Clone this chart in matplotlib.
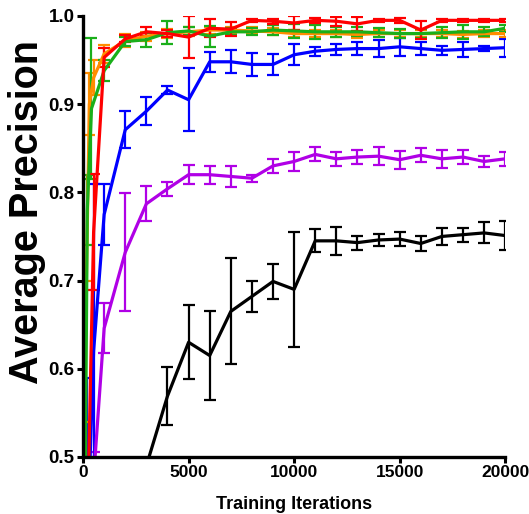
import matplotlib
matplotlib.use("Agg")
import matplotlib.pyplot as plt

plt.rcParams['font.family'] = ['Liberation Sans', 'DejaVu Sans']
plt.rcParams['font.weight'] = 'bold'

# iterations, mean AP, +/- error
black_x = [1000, 2000, 3000, 4000, 5000, 6000, 7000, 8000, 9000, 10000,
           11000, 12000, 13000, 14000, 15000, 16000, 17000, 18000, 19000, 20000]
black_y = [0.20, 0.35, 0.49, 0.569, 0.630, 0.615, 0.665, 0.682, 0.699, 0.690,
           0.745, 0.745, 0.743, 0.746, 0.747, 0.742, 0.750, 0.752, 0.754, 0.751]
black_e = [0.03, 0.03, 0.005, 0.033, 0.042, 0.05, 0.06, 0.018, 0.02, 0.065,
           0.013, 0.016, 0.008, 0.007, 0.008, 0.008, 0.01, 0.008, 0.012, 0.016]

purple_x = [500, 1000, 2000, 3000, 4000, 5000, 6000, 7000, 8000, 9000, 10000,
            11000, 12000, 13000, 14000, 15000, 16000, 17000, 18000, 19000, 20000]
purple_y = [0.476, 0.646, 0.732, 0.787, 0.804, 0.820, 0.820, 0.818, 0.816, 0.830, 0.835,
            0.843, 0.838, 0.840, 0.841, 0.837, 0.842, 0.838, 0.840, 0.835, 0.838]
purple_e = [0.03, 0.028, 0.067, 0.02, 0.008, 0.011, 0.01, 0.012, 0.004, 0.008, 0.011,
            0.008, 0.008, 0.008, 0.01, 0.01, 0.008, 0.01, 0.008, 0.006, 0.008]

blue_x = [200, 500, 1000, 2000, 3000, 4000, 5000, 6000, 7000, 8000, 9000, 10000,
          11000, 12000, 13000, 14000, 15000, 16000, 17000, 18000, 19000, 20000]
blue_y = [0.40, 0.62, 0.775, 0.871, 0.892, 0.916, 0.905, 0.948, 0.948, 0.945, 0.945, 0.956,
          0.960, 0.962, 0.963, 0.963, 0.965, 0.963, 0.961, 0.962, 0.963, 0.964]
blue_e = [0.19, 0.19, 0.035, 0.021, 0.016, 0.005, 0.036, 0.011, 0.013, 0.013, 0.012, 0.012,
          0.005, 0.006, 0.007, 0.01, 0.01, 0.007, 0.005, 0.008, 0.003, 0.01]

orange_x = [100, 300, 500, 1000, 2000, 3000, 4000, 5000, 6000, 7000, 8000, 9000, 10000,
            11000, 12000, 13000, 14000, 15000, 16000, 17000, 18000, 19000, 20000]
orange_y = [0.62, 0.90, 0.93, 0.957, 0.972, 0.977, 0.980, 0.982, 0.984, 0.984, 0.983, 0.982, 0.980,
            0.980, 0.980, 0.979, 0.980, 0.980, 0.980, 0.980, 0.979, 0.980, 0.980]
orange_e = [0.08, 0.035, 0.02, 0.01, 0.007, 0.005, 0.005, 0.005, 0.004, 0.004, 0.004, 0.004, 0.004,
            0.004, 0.004, 0.004, 0.004, 0.004, 0.004, 0.004, 0.004, 0.004, 0.004]

green_x = [100, 200, 400, 1000, 2000, 3000, 4000, 5000, 6000, 7000, 8000, 9000, 10000,
           11000, 12000, 13000, 14000, 15000, 16000, 17000, 18000, 19000, 20000]
green_y = [0.45, 0.78, 0.895, 0.938, 0.971, 0.973, 0.981, 0.983, 0.977, 0.982, 0.982, 0.984, 0.983,
           0.982, 0.982, 0.982, 0.981, 0.980, 0.980, 0.981, 0.982, 0.982, 0.986]
green_e = [0.05, 0.04, 0.08, 0.012, 0.005, 0.008, 0.013, 0.005, 0.012, 0.004, 0.004, 0.006, 0.008,
           0.008, 0.006, 0.005, 0.005, 0.005, 0.005, 0.006, 0.008, 0.005, 0.004]

red_x = [100, 500, 1000, 2000, 3000, 4000, 5000, 6000, 7000, 8000, 9000, 10000,
         11000, 12000, 13000, 14000, 15000, 16000, 17000, 18000, 19000, 20000]
red_y = [0.30, 0.755, 0.953, 0.974, 0.982, 0.980, 0.976, 0.986, 0.985, 0.995, 0.994, 0.992,
         0.995, 0.994, 0.991, 0.995, 0.995, 0.984, 0.995, 0.995, 0.995, 0.995]
red_e = [0.1, 0.066, 0.011, 0.004, 0.005, 0.004, 0.024, 0.01, 0.008, 0.002, 0.003, 0.008,
         0.003, 0.005, 0.008, 0.002, 0.003, 0.01, 0.002, 0.002, 0.002, 0.002]

series = [
    (black_x, black_y, black_e, '#000000'),
    (purple_x, purple_y, purple_e, '#b000e6'),
    (blue_x, blue_y, blue_e, '#0000ff'),
    (orange_x, orange_y, orange_e, '#ff8c00'),
    (green_x, green_y, green_e, '#1aaf1a'),
    (red_x, red_y, red_e, '#ff0000'),
]

fig = plt.figure(figsize=(5.29, 5.14), dpi=100)
ax = fig.add_axes([0.157, 0.111, 0.798, 0.858])

for x, y, e, c in series:
    ax.errorbar(x, y, yerr=e, color=c, lw=2.3, elinewidth=1.6,
                capsize=4, capthick=1.6)

ax.set_xlim(0, 20000)
ax.set_ylim(0.5, 1.0)
ax.set_xticks([0, 5000, 10000, 15000, 20000])
ax.set_yticks([0.5, 0.6, 0.7, 0.8, 0.9, 1.0])
ax.set_yticklabels(['0.5', '0.6', '0.7', '0.8', '0.9', '1.0'])

for s in ['top', 'right']:
    ax.spines[s].set_visible(False)
for s in ['left', 'bottom']:
    ax.spines[s].set_linewidth(2.4)
ax.tick_params(width=2.2, length=4, pad=2)
ax.tick_params(axis='x', labelsize=12.5)
ax.tick_params(axis='y', labelsize=13.5)
for lab in ax.get_xticklabels() + ax.get_yticklabels():
    lab.set_fontweight('bold')

ax.set_xlabel('Training Iterations', fontsize=13, fontweight='bold', labelpad=11)
ax.set_ylabel('Average Precision', fontsize=28.5, fontweight='bold')
ax.yaxis.set_label_coords(-0.088, 0.556)

fig.savefig('out.png', dpi=100)
